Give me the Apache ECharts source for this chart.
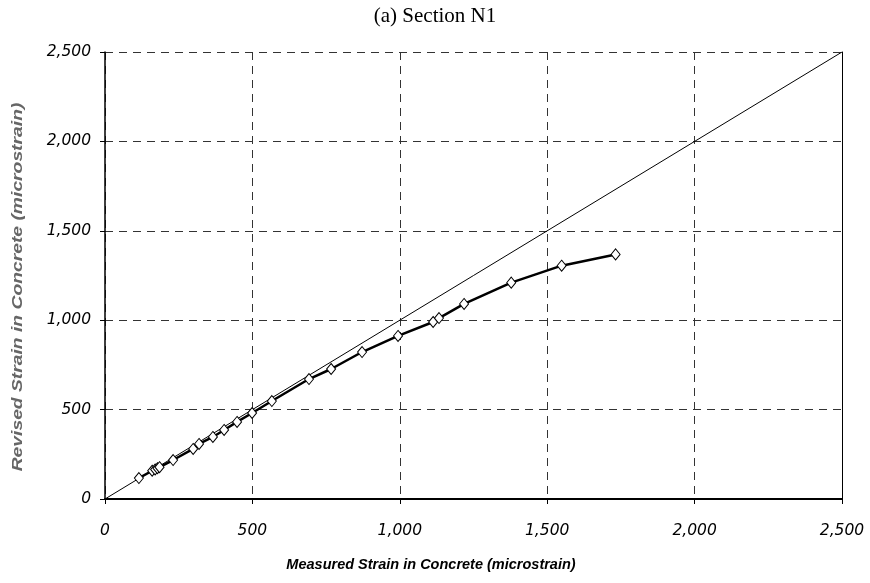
<!DOCTYPE html>
<html>
<head>
<meta charset="utf-8">
<script src="https://cdn.jsdelivr.net/npm/echarts@6/dist/echarts.min.js"></script>
<style>html,body{margin:0;padding:0;background:#fff}#c{width:870px;height:583px}</style>
</head>
<body>
<div id="c"></div>
<script>
var titleText = "(a) Section N1";
var xName = "Measured Strain in Concrete (microstrain)";
var yName = "Revised Strain in Concrete (microstrain)";
var measured = [115, 160, 170, 178, 185, 231, 299, 319, 366, 404, 448, 499, 566, 692, 767, 872, 994, 1113, 1133, 1218, 1378, 1549, 1732];
var revised  = [117, 158, 165, 172, 178, 218, 280, 308, 347, 386, 431, 481, 548, 671, 727, 822, 912, 990, 1012, 1091, 1210, 1305, 1368];
var equalityX = [0, 2500];
var equalityY = [0, 2500];

var chart = echarts.init(document.getElementById('c'), null, {renderer: 'canvas'});
var fmt = function (v) { return v.toLocaleString('en-US'); };
var pts = measured.map(function (x, i) { return [x, revised[i]]; });
var eq = equalityX.map(function (x, i) { return [x, equalityY[i]]; });
var tickFont = {fontFamily: 'DejaVu Sans', fontStyle: 'italic', fontSize: 15.5, color: '#000'};
chart.setOption({
  animation: false,
  backgroundColor: '#fff',
  title: {
    text: titleText, left: 'center', top: 1,
    textStyle: {fontFamily: 'Liberation Serif, Times New Roman', fontWeight: 'normal', fontSize: 21, color: '#000'}
  },
  grid: {left: 105, right: 28, top: 52, bottom: 84, show: false, containLabel: false, outerBoundsMode: 'none'},
  xAxis: {
    type: 'value', min: 0, max: 2500, interval: 500,
    axisLine: {show: true, lineStyle: {color: '#000', width: 2}},
    axisTick: {show: true, length: 5, lineStyle: {color: '#000'}},
    axisLabel: Object.assign({margin: 24, formatter: fmt}, tickFont),
    splitLine: {show: true, lineStyle: {color: '#333', type: [8, 6], width: 1}}
  },
  yAxis: [{
    type: 'value', min: 0, max: 2500, interval: 500,
    axisLine: {show: true, lineStyle: {color: '#000', width: 1.5}},
    axisTick: {show: true, length: 5, lineStyle: {color: '#000'}},
    axisLabel: Object.assign({margin: 14, formatter: fmt}, tickFont),
    splitLine: {show: true, lineStyle: {color: '#333', type: [8, 6], width: 1}}
  }, {
    type: 'value', min: 0, max: 2500, interval: 500, position: 'right',
    axisLine: {show: true, lineStyle: {color: '#000', width: 1}},
    axisTick: {show: false}, axisLabel: {show: false}, splitLine: {show: false}
  }],
  graphic: [{
    type: 'text', x: 431, y: 565,
    style: {text: xName, x: 0, y: 0, align: 'center', verticalAlign: 'middle',
      font: 'italic bold 14.5px "Liberation Sans", Arial', fill: '#000'}
  }, {
    type: 'text', x: 18, y: 287, rotation: Math.PI / 2, scaleX: 1.33,
    style: {text: yName, x: 0, y: 0, align: 'center', verticalAlign: 'middle',
      font: 'italic bold 14.5px "Liberation Sans", Arial', fill: '#666'}
  }],
  series: [{
    type: 'line', data: eq, symbol: 'none', silent: true,
    lineStyle: {color: '#000', width: 1}, z: 2
  }, {
    type: 'line', data: pts, symbol: 'diamond', symbolSize: [9, 11],
    lineStyle: {color: '#000', width: 2.5},
    itemStyle: {color: '#fff', borderColor: '#000', borderWidth: 1},
    z: 3
  }]
});
</script>
</body>
</html>
